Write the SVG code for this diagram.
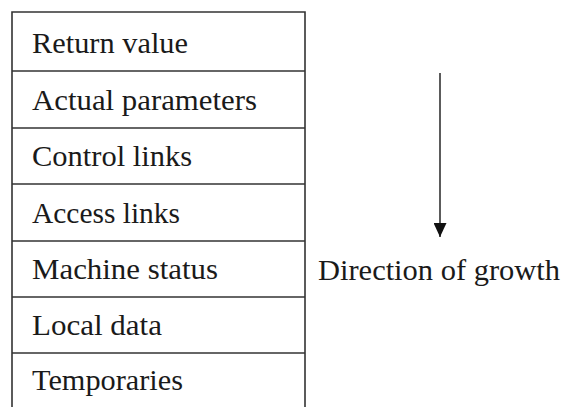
<svg xmlns="http://www.w3.org/2000/svg" width="564" height="407" viewBox="0 0 564 407">
  <style>
    .cell { fill: #ffffff; stroke: #333333; stroke-width: 1.6; }
    .label { font-family: "Liberation Serif", "Times New Roman", serif; font-size: 29px; fill: #1a1a1a; }
    .conn { stroke: #333333; stroke-width: 1.6; fill: none; }
  </style>
  <defs>
    <marker id="arrowhead" markerWidth="14" markerHeight="13" refX="14" refY="6.5" orient="auto" markerUnits="userSpaceOnUse" viewBox="0 0 14 13">
      <path d="M0,0 L14,6.5 L0,13 Z" fill="#111111"/>
    </marker>
  </defs>
  <rect width="564" height="407" fill="#ffffff"/>

  <!-- activation record, one field per row; the frame continues below the visible area -->
  <g id="return-value">
    <path class="cell" d="M12,420 L12,12 L305,12 L305,420"/>
    <text class="label" x="32" y="53" textLength="156" lengthAdjust="spacingAndGlyphs">Return value</text>
  </g>
  <g id="actual-parameters">
    <line class="cell" x1="12" y1="71" x2="305" y2="71"/>
    <text class="label" x="32" y="110" textLength="225" lengthAdjust="spacingAndGlyphs">Actual parameters</text>
  </g>
  <g id="control-links">
    <line class="cell" x1="12" y1="128" x2="305" y2="128"/>
    <text class="label" x="32" y="166" textLength="160" lengthAdjust="spacingAndGlyphs">Control links</text>
  </g>
  <g id="access-links">
    <line class="cell" x1="12" y1="184" x2="305" y2="184"/>
    <text class="label" x="32" y="223" textLength="148" lengthAdjust="spacingAndGlyphs">Access links</text>
  </g>
  <g id="machine-status">
    <line class="cell" x1="12" y1="241" x2="305" y2="241"/>
    <text class="label" x="32" y="279" textLength="186" lengthAdjust="spacingAndGlyphs">Machine status</text>
  </g>
  <g id="local-data">
    <line class="cell" x1="12" y1="297" x2="305" y2="297"/>
    <text class="label" x="32" y="335" textLength="130" lengthAdjust="spacingAndGlyphs">Local data</text>
  </g>
  <g id="temporaries">
    <line class="cell" x1="12" y1="353" x2="305" y2="353"/>
    <text class="label" x="32" y="390" textLength="151" lengthAdjust="spacingAndGlyphs">Temporaries</text>
  </g>

  <!-- growth direction -->
  <g id="connectors">
    <line class="conn" x1="440" y1="73" x2="440" y2="237" marker-end="url(#arrowhead)"/>
  </g>
  <g id="growth-label">
    <text class="label" x="318" y="280" textLength="242" lengthAdjust="spacingAndGlyphs">Direction of growth</text>
  </g>
</svg>
